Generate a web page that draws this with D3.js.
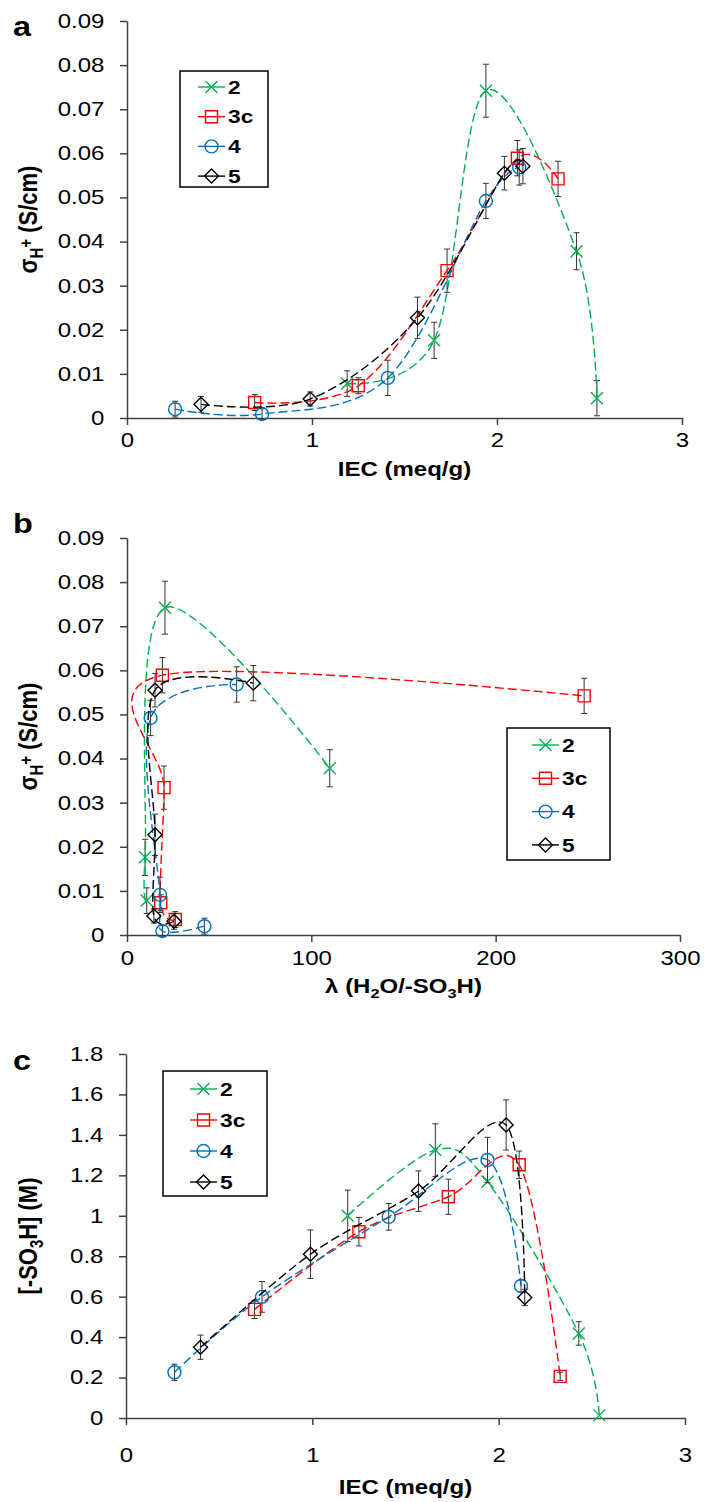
<!DOCTYPE html>
<html>
<head>
<meta charset="utf-8">
<script src="https://cdn.jsdelivr.net/npm/d3@7"></script>
<style>
body { margin: 0; background: #fff; }
svg { display: block; font-family: 'Liberation Sans', Arial, sans-serif; }
</style>
</head>
<body>
<svg id="chart" width="704" height="1502"></svg>
<script>
// Data //
const seriesNames = ['2', '3c', '4', '5']

const iec2 = [1.19, 1.66, 1.94, 2.43, 2.54]
const sigma2 = [0.0078, 0.0176, 0.0742, 0.0378, 0.0045]
const sigmaErr2 = [0.0029, 0.0041, 0.006, 0.0042, 0.004]
const lambda2 = [10.7, 9.8, 20.6, 110, null]
const conc2 = [1.0, 1.325, 1.168, 0.418, 0.013]
const concErr2 = [0.127, 0.13, 0, 0.058, 0]

const iec3 = [0.69, 1.25, 1.73, 2.11, 2.33]
const sigma3 = [0.0035, 0.0073, 0.0334, 0.0589, 0.0542]
const sigmaErr3 = [0.0018, 0.0018, 0.0049, 0.004, 0.004]
const lambda3 = [26.2, 18.3, 20.1, 19.2, 248]
const conc3 = [0.537, 0.921, 1.094, 1.252, 0.206]
const concErr3 = [0.045, 0.07, 0.087, 0.068, 0.02]

const iec4 = [0.26, 0.73, 1.41, 1.94, 2.12]
const sigma4 = [0.002, 0.0009, 0.0091, 0.0492, 0.0568]
const sigmaErr4 = [0.0018, 0.0012, 0.004, 0.004, 0.004]
const lambda4 = [42, 19.2, 17.9, 12.8, 59.5]
const conc4 = [0.226, 0.599, 0.995, 1.276, 0.653]
const concErr4 = [0.04, 0.076, 0.066, 0.112, 0.03]

const iec5 = [0.40, 0.99, 1.57, 2.04, 2.14]
const sigma5 = [0.0031, 0.0043, 0.0227, 0.0555, 0.0571]
const sigmaErr5 = [0.0018, 0.0016, 0.0047, 0.0038, 0.004]
const lambda5 = [25.5, 14.6, 15.2, 15.2, 68.5]
const conc5 = [0.35, 0.81, 1.122, 1.449, 0.596]
const concErr5 = [0.06, 0.12, 0.1, 0.124, 0.04]

const iecTicks = [0, 1, 2, 3]
const lambdaTicks = [0, 100, 200, 300]
const sigmaTicks = [0, 0.01, 0.02, 0.03, 0.04, 0.05, 0.06, 0.07, 0.08, 0.09]
const concTicks = [0, 0.2, 0.4, 0.6, 0.8, 1, 1.2, 1.4, 1.6, 1.8]

// Setup //
const SX = 1.2
const colors = ['#00B050', '#FF0000', '#0070C0', '#000000']
const markers = ['x', 'square', 'circle', 'diamond']
const svg = d3.select('#chart')

const series = seriesNames.map((name, i) => ({
    name,
    color: colors[i],
    marker: markers[i],
    iec: [iec2, iec3, iec4, iec5][i],
    sigma: [sigma2, sigma3, sigma4, sigma5][i],
    sigmaErr: [sigmaErr2, sigmaErr3, sigmaErr4, sigmaErr5][i],
    lambda: [lambda2, lambda3, lambda4, lambda5][i],
    conc: [conc2, conc3, conc4, conc5][i],
    concErr: [concErr2, concErr3, concErr4, concErr5][i],
}))

const panels = [
    {
        letter: 'a', letterY: 36,
        xKey: 'iec', yKey: 'sigma', errKey: 'sigmaErr',
        xDomain: [0, 3], xTicks: iecTicks, yDomain: [0, 0.09], yTicks: sigmaTicks,
        left: 127, right: 682, top: 21, bottom: 418, xPad: 8, xTitleY: 476,
        xTitle: 'iec', yTitle: 'sigma',
        legend: { x: 180, y: 71, w: 88, h: 116, first: 87, step: 29.7, line: 198 },
    },
    {
        letter: 'b', letterY: 533,
        xKey: 'lambda', yKey: 'sigma', errKey: 'sigmaErr',
        xDomain: [0, 300], xTicks: lambdaTicks, yDomain: [0, 0.09], yTicks: sigmaTicks,
        left: 127, right: 680, top: 538, bottom: 935, xPad: 9, xTitleY: 993,
        xTitle: 'lambda', yTitle: 'sigma',
        legend: { x: 507, y: 728, w: 103, h: 132, first: 745, step: 33.3, line: 532 },
    },
    {
        letter: 'c', letterY: 1070,
        xKey: 'iec', yKey: 'conc', errKey: 'concErr',
        xDomain: [0, 3], xTicks: iecTicks, yDomain: [0, 1.8], yTicks: concTicks,
        left: 126, right: 685, top: 1054, bottom: 1418, xPad: 23, xTitleY: 1494,
        xTitle: 'iec', yTitle: 'conc',
        legend: { x: 163, y: 1071, w: 104, h: 125, first: 1089, step: 31, line: 190 },
    },
]

// Markers //
const markerPath = (type) => {
    if (type === 'x') return 'M-6,-6L6,6M-6,6L6,-6'
    if (type === 'square') return 'M-6,-6H6V6H-6Z'
    if (type === 'diamond') return 'M0,-7L7,0L0,7L-7,0Z'
    return d3.symbol(d3.symbolCircle, Math.PI * 6.5 * 6.5)()
}

const drawMarker = (g, x, y, s) => {
    g.append('path')
        .attr('d', markerPath(s.marker))
        .attr('transform', `translate(${x},${y})`)
        .attr('fill', 'none')
        .attr('stroke', s.color)
        .attr('stroke-width', 1.4)
}

// Texts //
const stretchedText = (g, x, y, opts = {}) => g.append('text')
    .attr('transform', `translate(${x},${y}) scale(${SX},1)${opts.rotate ? ' rotate(-90)' : ''}`)
    .attr('text-anchor', opts.anchor || 'middle')
    .attr('font-size', opts.size || 20)
    .attr('font-weight', opts.weight || 'bold')
    .attr('fill', '#000')

const writeTitle = (text, kind) => {
    const sub = (t, dy) => text.append('tspan').attr('font-size', '0.68em').attr('dy', dy).text(t)
    const plain = (t, dy = 0) => text.append('tspan').attr('dy', dy).text(t)

    if (kind === 'iec') {
        plain('IEC (meq/g)')
    } else if (kind === 'lambda') {
        plain('λ (H'); sub('2', 5); plain('O/-SO', -5); sub('3', 5); plain('H)', -5)
    } else if (kind === 'sigma') {
        plain('σ'); sub('H', 5); sub('+', -9); plain(' (S/cm)', 4)
    } else {
        plain('[-SO'); sub('3', 5); plain('H] (M)', -5)
    }
}

// Drawers //
const drawPanel = (p) => {
    const g = svg.append('g')
    const x = d3.scaleLinear().domain(p.xDomain).range([p.left, p.right])
    const y = d3.scaleLinear().domain(p.yDomain).range([p.bottom, p.top])

    const xAxis = g.append('g')
        .attr('transform', `translate(0,${p.bottom})`)
        .call(d3.axisBottom(x).tickValues(p.xTicks).tickSize(7).tickSizeOuter(0).tickPadding(p.xPad).tickFormat(d3.format('~g')))
    const yAxis = g.append('g')
        .attr('transform', `translate(${p.left},0)`)
        .call(d3.axisLeft(y).tickValues(p.yTicks).tickSize(7).tickSizeOuter(0).tickPadding(11.8).tickFormat(d3.format('~g')))

    ;[xAxis, yAxis].forEach(ax => {
        ax.selectAll('path, line').attr('stroke', '#404040').attr('stroke-width', 1.5)
        ax.selectAll('text')
            .attr('font-size', 20)
            .attr('font-family', "'Liberation Sans', Arial, sans-serif")
            .attr('fill', '#000')
            .attr('transform', `scale(${SX},1)`)
    })

    // titles
    writeTitle(stretchedText(g, (p.left + p.right) / 2, p.xTitleY), p.xTitle)
    writeTitle(stretchedText(g, 37, (p.top + p.bottom) / 2, { rotate: true, size: 22 }), p.yTitle)
    stretchedText(g, 13, p.letterY, { anchor: 'start', size: 27 }).text(p.letter)

    // series
    const line = d3.line()
        .x(d => x(d.x))
        .y(d => y(d.y))
        .curve(d3.curveCardinal.tension(0))

    series.forEach(s => {
        const points = s[p.xKey]
            .map((v, i) => ({ x: v, y: s[p.yKey][i], e: s[p.errKey][i] }))
            .filter(d => d.x !== null)

        const errs = g.append('g')
        points.filter(d => d.e > 0).forEach(d => {
            const px = x(d.x)
            const y0 = y(d.y - d.e)
            const y1 = y(d.y + d.e)
            errs.append('path')
                .attr('d', `M${px},${y0}V${y1}M${px - 3},${y0}H${px + 3}M${px - 3},${y1}H${px + 3}`)
                .attr('stroke', '#333')
                .attr('stroke-width', 1)
                .attr('fill', 'none')
        })

        g.append('path')
            .datum(points)
            .attr('d', line)
            .attr('fill', 'none')
            .attr('stroke', s.color)
            .attr('stroke-width', 1.4)
            .attr('stroke-dasharray', '9,4')

        const marks = g.append('g')
        points.forEach(d => drawMarker(marks, x(d.x), y(d.y), s))
    })

    // legend
    const L = p.legend
    const legend = g.append('g')
    legend.append('rect')
        .attr('x', L.x).attr('y', L.y).attr('width', L.w).attr('height', L.h)
        .attr('fill', '#fff')
        .attr('stroke', '#000')
        .attr('stroke-width', 1.5)

    series.forEach((s, i) => {
        const ly = L.first + i * L.step
        legend.append('line')
            .attr('x1', L.line).attr('x2', L.line + 27)
            .attr('y1', ly).attr('y2', ly)
            .attr('stroke', s.color)
            .attr('stroke-width', 1.4)
        drawMarker(legend, L.line + 13.5, ly, s)
        stretchedText(legend, L.line + 30, ly, { anchor: 'start', size: 19 })
            .attr('dy', '0.35em')
            .text(s.name)
    })
}

// Initializer //
panels.forEach(drawPanel)
</script>
</body>
</html>
